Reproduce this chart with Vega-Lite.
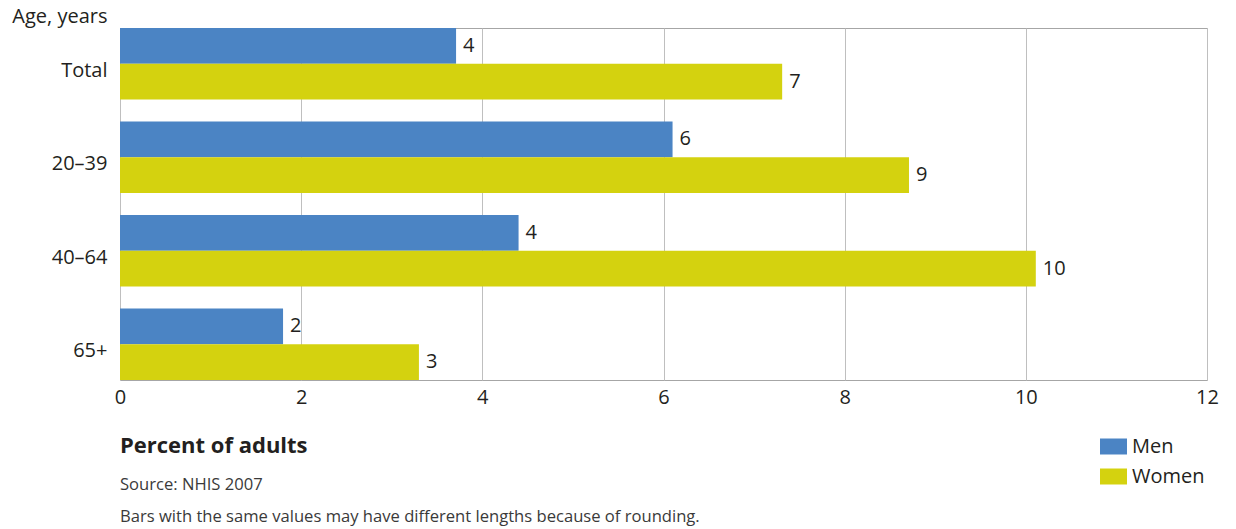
{
  "$schema": "https://vega.github.io/schema/vega-lite/v6.json",
  "width": 1087,
  "height": 352,
  "autosize": "none",
  "padding": {"left": 120, "top": 28, "right": 29, "bottom": 149},
  "background": "white",
  "config": {
    "font": "Open Sans",
    "view": {"stroke": "#a6a6a6", "strokeWidth": 1}
  },
  "title": {
    "text": "Percent of adults",
    "subtitle": ["Source: NHIS 2007", "Bars with the same values may have different lengths because of rounding."],
    "orient": "bottom",
    "anchor": "start",
    "frame": "group",
    "offset": -51,
    "fontSize": 22,
    "fontWeight": "bold",
    "color": "#231f20",
    "subtitleFontSize": 16.6,
    "subtitleColor": "#3a3a3a",
    "subtitlePadding": 19,
    "subtitleLineHeight": 32
  },
  "data": {
    "values": [
      {"age": "Total", "sex": "Men", "value": 3.71, "label": "4"},
      {"age": "Total", "sex": "Women", "value": 7.31, "label": "7"},
      {"age": "20–39", "sex": "Men", "value": 6.1, "label": "6"},
      {"age": "20–39", "sex": "Women", "value": 8.71, "label": "9"},
      {"age": "40–64", "sex": "Men", "value": 4.4, "label": "4"},
      {"age": "40–64", "sex": "Women", "value": 10.11, "label": "10"},
      {"age": "65+", "sex": "Men", "value": 1.8, "label": "2"},
      {"age": "65+", "sex": "Women", "value": 3.3, "label": "3"}
    ]
  },
  "encoding": {
    "y": {
      "field": "age",
      "type": "nominal",
      "sort": ["Total", "20–39", "40–64", "65+"],
      "scale": {"paddingInner": 0.236, "paddingOuter": 0},
      "axis": {
        "domain": false,
        "ticks": false,
        "labelFontSize": 20,
        "labelColor": "#231f20",
        "labelPadding": 13,
        "labelOffset": 7,
        "title": "Age, years",
        "titleAngle": 0,
        "titleAlign": "right",
        "titleBaseline": "alphabetic",
        "titleX": -13,
        "titleY": -6,
        "titleFontSize": 20,
        "titleFontWeight": "normal",
        "titleColor": "#231f20"
      }
    },
    "yOffset": {"field": "sex", "type": "nominal", "sort": ["Men", "Women"]},
    "x": {
      "field": "value",
      "type": "quantitative",
      "scale": {"domain": [0, 12]},
      "axis": {
        "values": [0, 2, 4, 6, 8, 10, 12],
        "grid": true,
        "gridColor": "#bfbfbf",
        "gridWidth": 1,
        "domain": false,
        "ticks": false,
        "labelFlush": false,
        "labelFontSize": 20,
        "labelColor": "#231f20",
        "labelPadding": 7,
        "title": null
      }
    }
  },
  "layer": [
    {
      "mark": {"type": "bar"},
      "encoding": {
        "color": {
          "field": "sex",
          "type": "nominal",
          "scale": {"domain": ["Men", "Women"], "range": ["#4b84c4", "#d4d20f"]},
          "legend": {
            "title": null,
            "orient": "none",
            "legendX": 980,
            "legendY": 405,
            "padding": 0,
            "symbolType": "M-1,-0.5926H1V0.5926H-1Z",
            "symbolSize": 729,
            "symbolStrokeWidth": 0,
            "labelFontSize": 20,
            "labelColor": "#231f20",
            "labelOffset": 5,
            "rowPadding": 6
          }
        }
      }
    },
    {
      "mark": {"type": "text", "align": "left", "baseline": "middle", "dx": 7, "fontSize": 20, "color": "#231f20"},
      "encoding": {"text": {"field": "label"}}
    }
  ]
}
